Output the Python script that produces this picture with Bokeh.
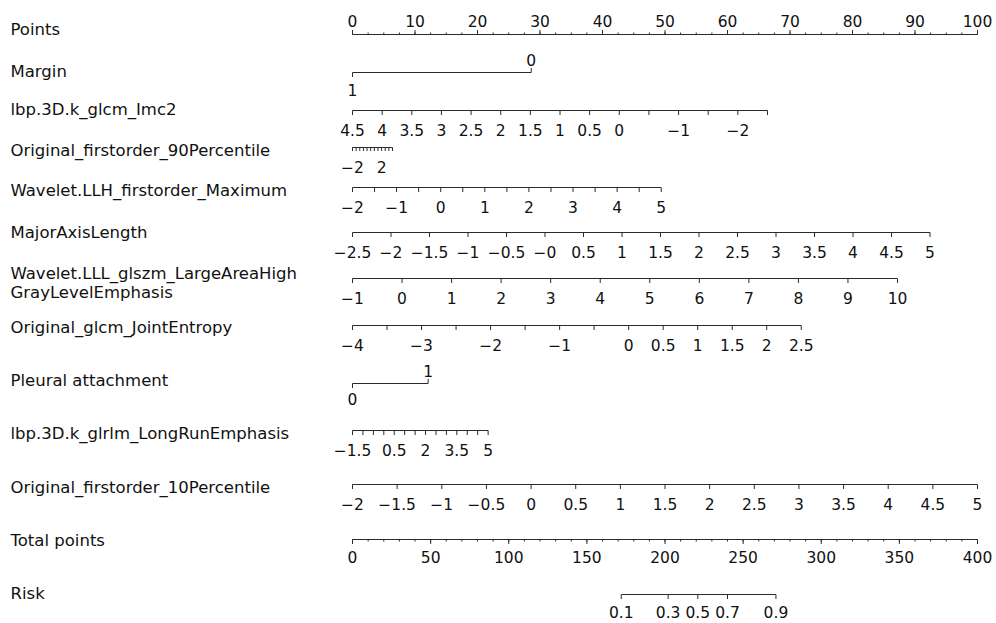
import numpy as np
from bokeh.plotting import figure
from bokeh.models import Range1d
from bokeh.embed import file_html
from bokeh.resources import INLINE
from bokeh.core.properties import value

M = "\u2212"

# ---------------- data ----------------
row_names = ["Points", "Margin", "lbp.3D.k_glcm_Imc2", "Original_firstorder_90Percentile",
             "Wavelet.LLH_firstorder_Maximum", "MajorAxisLength",
             "Wavelet.LLL_glszm_LargeAreaHigh\nGrayLevelEmphasis", "Original_glcm_JointEntropy",
             "Pleural attachment", "lbp.3D.k_glrlm_LongRunEmphasis",
             "Original_firstorder_10Percentile", "Total points", "Risk"]

points_ticks = [0, 10, 20, 30, 40, 50, 60, 70, 80, 90, 100]
points_labels = ["0", "10", "20", "30", "40", "50", "60", "70", "80", "90", "100"]
points_minor_step = 2.5

margin_labels = ["1", "0"]
margin_points = [0.0, 28.6]

imc2_ticks = [4.5, 4, 3.5, 3, 2.5, 2, 1.5, 1, 0.5, 0, -0.5, -1, -1.5, -2, -2.5]
imc2_labels = ["4.5", "4", "3.5", "3", "2.5", "2", "1.5", "1", "0.5", "0", "", M + "1", "", M + "2", ""]
imc2_points = [0.0, 66.4]

p90_ticks = [-2, -1.5, -1, -0.5, 0, 0.5, 1, 1.5, 2, 2.5, 3, 3.5]
p90_labels = [M + "2", "", "", "", "", "", "", "", "2", "", "", ""]
p90_points = [0.0, 6.4]

llh_ticks = [-2, -1.5, -1, -0.5, 0, 0.5, 1, 1.5, 2, 2.5, 3, 3.5, 4, 4.5, 5]
llh_labels = [M + "2", "", M + "1", "", "0", "", "1", "", "2", "", "3", "", "4", "", "5"]
llh_points = [0.0, 49.4]

mal_ticks = [-2.5, -2, -1.5, -1, -0.5, 0, 0.5, 1, 1.5, 2, 2.5, 3, 3.5, 4, 4.5, 5]
mal_labels = [M + "2.5", M + "2", M + "1.5", M + "1", M + "0.5", M + "0", "0.5", "1", "1.5",
              "2", "2.5", "3", "3.5", "4", "4.5", "5"]
mal_points = [0.0, 92.4]

lll_ticks = [-1, 0, 1, 2, 3, 4, 5, 6, 7, 8, 9, 10]
lll_labels = [M + "1", "0", "1", "2", "3", "4", "5", "6", "7", "8", "9", "10"]
lll_points = [0.0, 87.2]

je_ticks = [-4, -3.5, -3, -2.5, -2, -1.5, -1, -0.5, 0, 0.5, 1, 1.5, 2, 2.5]
je_labels = [M + "4", "", M + "3", "", M + "2", "", M + "1", "", "0", "0.5", "1", "1.5", "2", "2.5"]
je_points = [0.0, 71.8]

pleural_labels = ["0", "1"]
pleural_points = [0.0, 12.1]

lre_ticks = [-1.5, -1, -0.5, 0, 0.5, 1, 1.5, 2, 2.5, 3, 3.5, 4, 4.5, 5]
lre_labels = [M + "1.5", "", "", "", "0.5", "", "", "2", "", "", "3.5", "", "", "5"]
lre_points = [0.0, 21.7]

p10_ticks = [-2, -1.5, -1, -0.5, 0, 0.5, 1, 1.5, 2, 2.5, 3, 3.5, 4, 4.5, 5]
p10_labels = [M + "2", M + "1.5", M + "1", M + "0.5", "0", "0.5", "1", "1.5", "2", "2.5",
              "3", "3.5", "4", "4.5", "5"]
p10_points = [0.0, 100.0]

total_ticks = [0, 50, 100, 150, 200, 250, 300, 350, 400]
total_labels = ["0", "50", "100", "150", "200", "250", "300", "350", "400"]
total_minor_step = 10
total_max = 400

risk_labels = ["0.1", "0.3", "0.5", "0.7", "0.9"]
risk_total_points = [172, 202, 221, 240, 271]

# ---------------- layout ----------------
FONT = "DejaVu Sans"
LAB_SIZE = "16.5px"
TICK_SIZE = "15.5px"
LINE_C = "#2b2b2b"
TEXT_C = "#111111"

p = figure(width=996, height=623, x_range=Range1d(-56.32, 103.04), y_range=Range1d(623, 0),
           output_backend="svg", toolbar_location=None, min_border=0,
           x_axis_location=None, y_axis_location=None)
p.grid.visible = False
p.outline_line_color = None


def lin(ticks, pts):
    t = np.asarray(ticks, dtype=float)
    return pts[0] + (t - t[0]) / (t[-1] - t[0]) * (pts[1] - pts[0])


def text(xs, ys, txt, size=TICK_SIZE, align="center"):
    p.text(x=list(xs), y=list(ys), text=list(txt), text_font=value(FONT), text_font_size=size,
           text_align=align, text_baseline="middle", text_color=TEXT_C)


def axis_row(xs, labels, y, direction=1, tick_len=4.5, label_dy=19):
    xs = list(xs)
    p.segment(x0=[min(xs)], y0=[y], x1=[max(xs)], y1=[y], line_color=LINE_C, line_width=1)
    p.segment(x0=xs, y0=[y] * len(xs), x1=xs, y1=[y + direction * tick_len] * len(xs),
              line_color=LINE_C, line_width=1)
    lx = [x for x, l in zip(xs, labels) if l]
    lt = [l for l in labels if l]
    text(lx, [y + direction * label_dy] * len(lx), lt)


def binary_row(xs, labels, y, low_dy=17, high_dy=-12.5):
    # first value below the left end, second value above the right end
    p.segment(x0=[xs[0]], y0=[y], x1=[xs[1]], y1=[y], line_color=LINE_C)
    p.segment(x0=[xs[0], xs[1]], y0=[y, y], x1=[xs[0], xs[1]], y1=[y + 4.5, y - 4.5], line_color=LINE_C)
    text([xs[0], xs[1]], [y + low_dy, y + high_dy], labels)


# row labels
label_y = [29, 71, 109, 150, 190, 232, 273, 327, 380, 433, 487, 540, 593]
lx, ly, lt = [], [], []
for name, yy in zip(row_names, label_y):
    parts = name.split("\n")
    for k, part in enumerate(parts):
        lx.append(-54.72)
        ly.append(yy + k * 19)
        lt.append(part)
text(lx, ly, lt, size=LAB_SIZE, align="left")

# Points axis (ticks up, labels above)
pm = np.arange(0, 100.001, points_minor_step)
p.segment(x0=[0], y0=[34], x1=[100], y1=[34], line_color=LINE_C)
p.segment(x0=pm, y0=[34] * len(pm), x1=pm, y1=[32] * len(pm), line_color=LINE_C)
p.segment(x0=points_ticks, y0=[34] * len(points_ticks), x1=points_ticks, y1=[29.5] * len(points_ticks),
          line_color=LINE_C)
text(points_ticks, [20] * len(points_ticks), points_labels)

binary_row(margin_points, margin_labels, 72)
axis_row(lin(imc2_ticks, imc2_points), imc2_labels, 110)
axis_row(lin(p90_ticks, p90_points), p90_labels, 147, tick_len=3.5)
axis_row(lin(llh_ticks, llh_points), llh_labels, 187)
axis_row(lin(mal_ticks, mal_points), mal_labels, 232)
axis_row(lin(lll_ticks, lll_points), lll_labels, 278)
axis_row(lin(je_ticks, je_points), je_labels, 325)
binary_row(pleural_points, pleural_labels, 383, low_dy=15, high_dy=-12.5)
axis_row(lin(lre_ticks, lre_points), lre_labels, 430)
axis_row(lin(p10_ticks, p10_points), p10_labels, 484)

# Total points axis (ticks down)
scale = 100.0 / total_max
tm = np.arange(0, total_max + 0.001, total_minor_step) * scale
p.segment(x0=[0], y0=[539], x1=[100], y1=[539], line_color=LINE_C)
p.segment(x0=tm, y0=[539] * len(tm), x1=tm, y1=[541] * len(tm), line_color=LINE_C)
tt = [t * scale for t in total_ticks]
p.segment(x0=tt, y0=[539] * len(tt), x1=tt, y1=[543.5] * len(tt), line_color=LINE_C)
text(tt, [556] * len(tt), total_labels)

# Risk axis
axis_row([t * scale for t in risk_total_points], risk_labels, 594, label_dy=17)

open("out.html", "w").write(file_html(p, INLINE))
